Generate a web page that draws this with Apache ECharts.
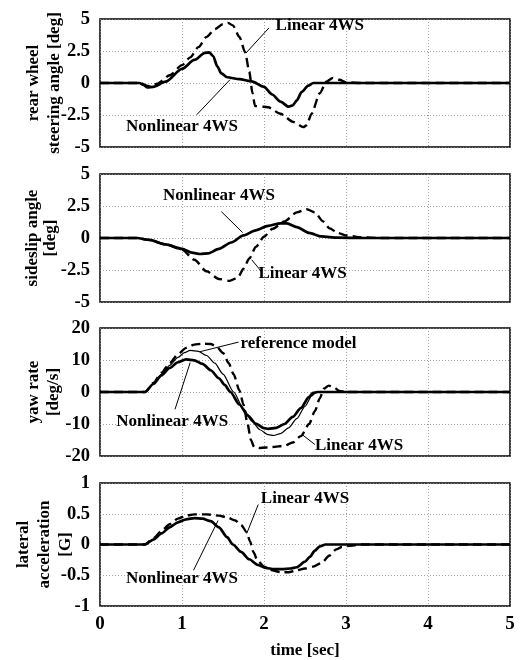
<!DOCTYPE html>
<html>
<head>
<meta charset="UTF-8">
<title>4WS response</title>
<script src="https://cdn.jsdelivr.net/npm/echarts@6/dist/echarts.min.js"></script>
<style>
  html, body { margin: 0; padding: 0; background: #fff; }
  #main { width: 524px; height: 660px; }
</style>
</head>
<body>
<div id="main"></div>
<script>
// time ticks [sec]
var timeTicks = [0, 1, 2, 3, 4, 5];

// rear wheel steering angle [deg]
var steerNonlinear = [[0,0],[0.48,0],[0.53,-0.15],[0.58,-0.35],[0.65,-0.3],[0.8,0.1],[1.0,1.1],[1.15,1.8],[1.28,2.35],[1.33,2.4],[1.38,2.1],[1.43,1.3],[1.48,0.75],[1.55,0.45],[1.7,0.3],[1.85,0.12],[2.0,-0.3],[2.1,-0.9],[2.2,-1.45],[2.3,-1.85],[2.35,-1.75],[2.4,-1.35],[2.46,-0.7],[2.54,-0.2],[2.6,0],[3,0],[5,0]];
var steerLinear = [[0,0],[0.5,0],[0.56,-0.2],[0.62,-0.3],[0.7,-0.05],[0.85,0.6],[1.0,1.4],[1.1,2.0],[1.2,2.8],[1.3,3.6],[1.4,4.2],[1.5,4.6],[1.56,4.7],[1.62,4.5],[1.7,3.6],[1.77,2.4],[1.82,0.9],[1.86,-0.8],[1.89,-1.8],[2.0,-1.85],[2.05,-1.9],[2.2,-2.4],[2.36,-3.05],[2.48,-3.45],[2.52,-3.3],[2.58,-2.4],[2.68,-0.8],[2.76,0.1],[2.84,0.4],[2.92,0.25],[3.0,0.05],[3.2,0],[5,0]];

// sideslip angle [deg]
var slipNonlinear = [[0,0],[0.45,0],[0.6,-0.15],[0.8,-0.5],[1.0,-0.85],[1.12,-1.15],[1.22,-1.25],[1.32,-1.2],[1.45,-0.85],[1.6,-0.35],[1.75,0.2],[1.9,0.6],[2.05,0.95],[2.2,1.15],[2.28,1.15],[2.4,0.85],[2.55,0.4],[2.7,0.12],[2.9,0.03],[3.2,0],[5,0]];
var slipLinear = [[0,0],[0.45,0],[0.6,-0.15],[0.8,-0.5],[1.0,-0.9],[1.15,-1.7],[1.3,-2.6],[1.45,-3.2],[1.58,-3.35],[1.68,-3.1],[1.75,-2.4],[1.82,-1.6],[1.9,-0.7],[2.0,0.1],[2.1,0.7],[2.25,1.3],[2.4,2.0],[2.52,2.25],[2.62,2.0],[2.72,1.3],[2.8,0.75],[2.9,0.4],[3.0,0.2],[3.2,0.05],[3.4,0],[5,0]];

// yaw rate [deg/s]
var yawNonlinear = [[0,0],[0.55,0],[0.65,2.5],[0.75,5.2],[0.85,7.5],[0.95,9.3],[1.05,10.2],[1.15,9.9],[1.25,8.8],[1.35,6.8],[1.45,4.3],[1.52,2.2],[1.59,0],[1.7,-3.9],[1.8,-7.3],[1.9,-9.9],[2.0,-11.3],[2.05,-11.5],[2.15,-11.2],[2.25,-10.0],[2.35,-7.8],[2.45,-5.0],[2.55,-1.5],[2.6,-0.3],[2.65,0],[5,0]];
var yawReference = [[0,0],[0.55,0],[0.65,2.6],[0.75,5.5],[0.85,8.3],[0.95,10.8],[1.03,12.3],[1.1,13.0],[1.2,12.7],[1.3,11.4],[1.4,9.0],[1.5,5.6],[1.63,0],[1.75,-5.3],[1.85,-9.1],[1.95,-11.8],[2.05,-13.3],[2.12,-13.6],[2.2,-13.0],[2.3,-11.2],[2.4,-8.3],[2.5,-4.5],[2.58,-1.3],[2.63,-0.2],[2.68,0],[5,0]];
var yawLinear = [[0,0],[0.55,0],[0.65,2.8],[0.75,6],[0.85,9],[0.95,11.8],[1.05,13.8],[1.15,14.8],[1.25,15.1],[1.35,15.0],[1.42,14.2],[1.5,12.2],[1.57,9.0],[1.63,5.5],[1.7,0.5],[1.75,-4],[1.8,-10],[1.84,-15],[1.88,-17.2],[1.95,-17.5],[2.1,-17.2],[2.25,-16.8],[2.35,-15.8],[2.45,-13.8],[2.55,-10.0],[2.62,-6.0],[2.68,-2.0],[2.73,1.0],[2.79,2.0],[2.85,1.5],[2.92,0.3],[3.0,0],[5,0]];

// lateral acceleration [G]
var accNonlinear = [[0,0],[0.55,0],[0.65,0.08],[0.75,0.18],[0.85,0.28],[0.95,0.36],[1.05,0.41],[1.15,0.43],[1.25,0.42],[1.35,0.38],[1.45,0.28],[1.55,0.12],[1.62,0],[1.72,-0.12],[1.82,-0.24],[1.92,-0.33],[2.02,-0.38],[2.12,-0.4],[2.22,-0.4],[2.32,-0.39],[2.4,-0.37],[2.5,-0.28],[2.56,-0.2],[2.62,-0.1],[2.68,-0.03],[2.75,0],[5,0]];
var accLinear = [[0,0],[0.55,0],[0.65,0.1],[0.75,0.22],[0.85,0.33],[0.95,0.42],[1.05,0.47],[1.15,0.49],[1.3,0.49],[1.45,0.47],[1.55,0.44],[1.65,0.39],[1.72,0.32],[1.79,0.2],[1.83,0.05],[1.87,-0.12],[1.92,-0.26],[2.0,-0.36],[2.1,-0.42],[2.2,-0.45],[2.3,-0.45],[2.4,-0.42],[2.5,-0.39],[2.6,-0.36],[2.7,-0.3],[2.8,-0.18],[2.88,-0.08],[2.95,-0.04],[3.05,-0.02],[3.2,0],[5,0]];

// y axis ranges per panel
var yMins = [-5, -5, -20, -1];
var yMaxs = [5, 5, 20, 1];
var yIntervals = [2.5, 2.5, 10, 0.5];
var yNames = ['rear wheel\nsteering angle [deg]', 'sideslip angle\n[deg]', 'yaw rate\n[deg/s]', 'lateral\nacceleration\n[G]'];

// annotation texts (panel, text, [t, value] of text centre)
var notes = [
  [0, 'Linear 4WS', [2.68, 4.45]],
  [0, 'Nonlinear 4WS', [1.0, -3.42]],
  [1, 'Nonlinear 4WS', [1.45, 3.3]],
  [1, 'Linear 4WS', [2.47, -2.75]],
  [2, 'reference model', [2.42, 15.0]],
  [2, 'Nonlinear 4WS', [0.88, -9.1]],
  [2, 'Linear 4WS', [3.16, -16.9]],
  [3, 'Linear 4WS', [2.5, 0.75]],
  [3, 'Nonlinear 4WS', [1.0, -0.55]]
];
// leader lines (panel, from, to)
var leaders = [
  [0, [2.06, 4.3], [1.78, 2.34]],
  [0, [1.18, -2.48], [1.585, 0.26]],
  [1, [1.48, 2.06], [1.74, 0.42]],
  [1, [1.85, -1.7], [1.97, -2.63]],
  [2, [1.69, 15.6], [1.22, 12.6]],
  [2, [0.915, -5.4], [1.1, 9.2]],
  [2, [2.62, -16.4], [2.46, -13.2]],
  [3, [1.93, 0.65], [1.79, 0.18]],
  [3, [1.14, -0.42], [1.44, 0.39]]
];

var FONT = 'Liberation Serif';
var myChart = echarts.init(document.getElementById('main'));

var gridTops = [19, 174, 328, 483];
var gridHeights = [128, 128, 128, 127];
var nameGaps = [35, 40, 36, 24];
var nameLineHeights = [21, 18, 20, 21];

var grids = [], xAxes = [], yAxes = [];
for (var i = 0; i < 4; i++) {
  grids.push({
    left: 100, width: 410, top: gridTops[i], height: gridHeights[i],
    show: true, borderColor: '#000', borderWidth: 1.5, backgroundColor: '#fff'
  });
  xAxes.push({
    type: 'value', gridIndex: i, min: 0, max: 5, interval: 1,
    axisLine: { show: false }, axisTick: { show: false },
    axisLabel: {
      show: i === 3, margin: 9, color: '#000',
      fontFamily: FONT, fontWeight: 'bold', fontSize: 19
    },
    splitLine: { show: true, lineStyle: { color: '#8a8a8a', type: [1, 2], width: 0.8 } },
    name: i === 3 ? 'time [sec]' : '',
    nameLocation: 'middle', nameGap: 36,
    nameTextStyle: { color: '#000', fontFamily: FONT, fontWeight: 'bold', fontSize: 17 }
  });
  yAxes.push({
    type: 'value', gridIndex: i, min: yMins[i], max: yMaxs[i], interval: yIntervals[i],
    axisLine: { show: false }, axisTick: { show: false },
    axisLabel: {
      margin: 10, color: '#000',
      fontFamily: FONT, fontWeight: 'bold', fontSize: 18.5
    },
    splitLine: { show: true, lineStyle: { color: '#8a8a8a', type: [1, 2], width: 0.8 } },
    name: yNames[i], nameLocation: 'middle', nameRotate: 90, nameGap: nameGaps[i],
    nameMoveOverlap: false,
    nameTextStyle: {
      color: '#000', fontFamily: FONT, fontWeight: 'bold', fontSize: 17,
      lineHeight: nameLineHeights[i], align: 'center'
    }
  });
}

function curve(idx, data, kind) {
  var style = { color: '#000', width: 2.7, type: 'solid' };
  if (kind === 'dash') style = { color: '#000', width: 2.4, type: [9, 5] };
  if (kind === 'thin') style = { color: '#000', width: 1.2, type: 'solid' };
  return {
    type: 'line', xAxisIndex: idx, yAxisIndex: idx, data: data,
    showSymbol: false, smooth: 0.25, smoothMonotone: 'x',
    lineStyle: style, z: kind === 'dash' ? 3 : 4,
    animation: false, silent: true
  };
}

var series = [
  curve(0, steerLinear, 'dash'), curve(0, steerNonlinear, 'solid'),
  curve(1, slipLinear, 'dash'), curve(1, slipNonlinear, 'solid'),
  curve(2, yawLinear, 'dash'), curve(2, yawReference, 'thin'), curve(2, yawNonlinear, 'solid'),
  curve(3, accLinear, 'dash'), curve(3, accNonlinear, 'solid')
];

// annotations carried by an empty series per panel, placed in data coordinates
for (var p = 0; p < 4; p++) {
  var pts = notes.filter(function (n) { return n[0] === p; }).map(function (n) {
    return { coord: n[2], value: n[1] };
  });
  var lines = leaders.filter(function (l) { return l[0] === p; }).map(function (l) {
    return [{ coord: l[1] }, { coord: l[2] }];
  });
  series.push({
    type: 'line', xAxisIndex: p, yAxisIndex: p, data: [], silent: true, animation: false,
    markPoint: {
      symbol: 'circle', symbolSize: 0, animation: false,
      label: {
        show: true, position: 'inside', formatter: '{c}', color: '#000',
        fontFamily: FONT, fontWeight: 'bold', fontSize: 17
      },
      data: pts
    },
    markLine: {
      symbol: 'none', animation: false, silent: true,
      lineStyle: { color: '#000', width: 1, type: 'solid' },
      label: { show: false },
      data: lines
    }
  });
}

var option = {
  animation: false,
  backgroundColor: '#fff',
  grid: grids,
  xAxis: xAxes,
  yAxis: yAxes,
  series: series
};
myChart.setOption(option);
</script>
</body>
</html>
